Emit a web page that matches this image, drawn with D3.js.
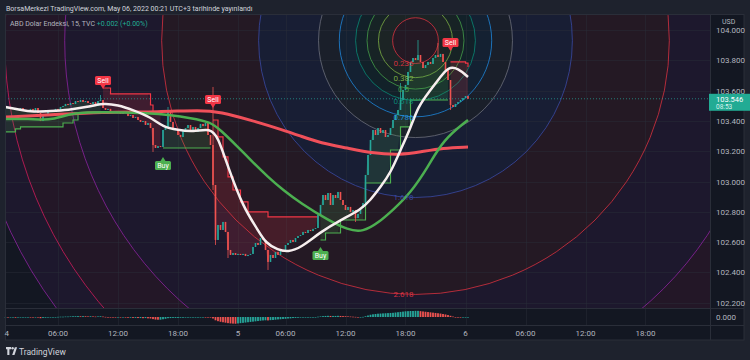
<!DOCTYPE html>
<html>
<head>
<meta charset="utf-8">
<script src="https://cdn.jsdelivr.net/npm/d3@7"></script>
<style>
  body { margin: 0; background: #1e222d; }
  svg { display: block; font-family: Roboto, "Noto Sans", sans-serif; }
</style>
</head>
<body>
<div id="chart"></div>
<script>
// ---- data (15 min bars, bar index 0 = first visible candle) ----
const firstOpen = 103.480;
const closes = [
  103.485,103.492,103.479,103.485,103.472,103.479,103.485,103.472,103.465,103.472,
  103.479,103.465,103.485,103.452,103.399,103.432,103.446,103.459,103.472,103.465,
  103.479,103.472,103.492,103.498,103.512,103.505,103.518,103.512,103.531,103.525,
  103.538,103.525,103.531,103.518,103.512,103.525,103.498,103.531,103.538,103.485,
  103.472,103.479,103.459,103.465,103.452,103.459,103.446,103.465,103.452,103.432,
  103.439,103.419,103.426,103.406,103.393,103.399,103.373,103.386,103.353,103.241,
  103.221,103.234,103.228,103.340,103.360,103.459,103.393,103.353,103.340,103.307,
  103.294,103.333,103.353,103.373,103.340,103.360,103.327,103.353,103.380,103.366,
  103.386,103.307,103.241,102.977,102.614,102.713,102.680,102.733,102.667,102.548,
  102.515,102.528,102.515,102.522,102.515,102.522,102.508,102.515,102.522,102.568,
  102.594,102.581,102.627,102.614,102.548,102.469,102.515,102.495,102.535,102.515,
  102.548,102.535,102.581,102.594,102.614,102.601,102.627,102.640,102.647,102.667,
  102.660,102.680,102.673,102.687,102.693,102.779,102.845,102.911,102.878,102.924,
  102.845,102.911,102.891,102.931,102.878,102.845,102.812,102.832,102.799,102.812,
  102.759,102.786,102.825,102.858,103.043,103.175,103.274,103.340,103.307,103.353,
  103.320,103.340,103.294,103.307,103.353,103.406,103.439,103.472,103.538,103.604,
  103.637,103.723,103.789,103.815,103.802,103.835,103.789,103.749,103.769,103.789,
  103.776,103.815,103.835,103.822,103.842,103.789,103.736,103.670,103.505,103.492,
  103.512,103.525,103.538,103.551,103.564,103.546
];
// [bar, high, low] for the visible wicks
const wicks = [
  [38, 103.571, null], [59, null, 103.195], [65, 103.492, null],
  [83, 103.624, 102.944], [84, null, 102.581], [89, null, 102.495],
  [105, null, 102.416], [140, null, 102.733], [158, 103.650, null],
  [165, 103.934, null], [173, 103.914, null], [178, null, 103.472]
];
// MACD histogram, in 0.001
const hist = [
  -3,-4,-4,-3,-5,-4,-3,-2,-2,-1,-2,-3,-2,-4,-8,-6,-5,-3,-2,-1,0,
  1,2,2,3,3,4,5,5,6,5,6,5,4,5,4,3,4,5,
  3,1,0,-1,-2,-3,-3,-4,-3,-4,-5,-5,-6,-6,-7,-7,-8,-7,-9,-10,
  -14,-17,-18,-18,
  -15,-12,-8,-7,-6,-6,-6,-5,-5,-4,
  -3,-2,-2,-1,-1,0,0,-1,-2,-4,
  -10,-22,-28,-32,-35,-38,-41,-43,-44,-45,
  -43,-41,-39,-37,-35,-33,-31,-29,-27,-25,-23,-22,-23,-21,-20,
  -18,-16,-15,-13,-12,-10,-9,-7,-6,-5,-4,
  -3,-2,-2,-1,-1,0,
  2,4,6,7,8,7,7,7,8,7,6,5,4,3,2,1,0,0,1,
  5,10,15,18,20,22,23,24,25,26,27,28,30,32,34,36,38,39,40,40,41,41,
  39,37,35,33,31,29,27,25,23,20,17,13,8,3,-1,
  -3,-4,-4,-3,-3
];
// moving averages [bar, price]
const whiteLine = [
  [0,103.492],[6,103.472],[11,103.459],[18,103.465],[25,103.472],[33,103.492],[39,103.518],
  [45,103.505],[51,103.472],[58,103.426],[63,103.360],[69,103.340],[75,103.327],[82,103.353],
  [85,103.294],[89,103.096],[95,102.832],[101,102.680],[104,102.594],[109,102.548],[113,102.535],
  [118,102.561],[126,102.667],[134,102.746],[142,102.812],[146,102.878],[150,102.964],[154,103.056],
  [158,103.208],[162,103.353],[165,103.492],[169,103.584],[174,103.690],[177,103.756],[181,103.749],
  [185,103.690]
];
const greenMA = [
  [0,103.413],[9,103.413],[18,103.406],[22,103.426],[27,103.452],[38,103.459],[58,103.452],
  [66,103.439],[74,103.419],[82,103.393],[86,103.340],[93,103.228],[98,103.142],[105,103.030],
  [111,102.944],[118,102.858],[129,102.746],[137,102.680],[143,102.667],[149,102.726],[155,102.812],
  [162,102.924],[169,103.096],[175,103.274],[185,103.406]
];
const redMA = [
  [0,103.426],[18,103.439],[38,103.459],[62,103.459],[78,103.472],[86,103.459],[98,103.406],
  [111,103.340],[118,103.300],[126,103.254],[137,103.221],[146,103.188],[158,103.175],
  [166,103.195],[175,103.221],[185,103.228]
];
// trailing stops (step lines)
const stopLong1 = [[0,103.327],[4,103.347],[6,103.360],[23,103.386],[27,103.406],[29,103.452],[38,103.459]];
const stopShort1 = [[39,103.617],[42,103.578],[58,103.505],[59,103.452],[62,103.452]];
const stopLong2 = [[63,103.221],[82,103.221]];
const stopShort2 = [[83,103.406],[85,103.294],[87,103.162],[89,103.030],[91,102.944],[94,102.865],[97,102.799],[105,102.766],[125,102.766]];
const stopLong3 = [[126,102.614],[128,102.660],[134,102.746],[144,102.990],[154,103.208],[158,103.360],[162,103.538],[177,103.538]];
const stopShort3 = [[178,103.789],[184,103.782],[185,103.756]];
const signals = [
  ['Sell', 39, 103.611], ['Buy', 63, 103.162], ['Sell', 83, 103.485],
  ['Buy', 126, 102.568], ['Sell', 178, 103.861]
];
// fib circles
const fibCenter = [164, 103.930];
const fibEdge = [164, 103.290];
const fibLevels = [0.236, 0.382, 0.5, 0.618, 0.786, 1, 1.618, 2.618, 3.618, 4.236, 4.618];
const fibColors = ['#f23645', '#8bc34a', '#4caf50', '#089981', '#2196f3', '#787b86', '#3f51b5', '#f23645', '#9c27b0', '#e91e63', '#9c27b0'];
const fibLabelled = [0.236, 0.382, 0.5, 0.618, 0.786, 1.618, 2.618];
const priceTicks = [102.2, 102.4, 102.6, 102.8, 103.0, 103.2, 103.4, 103.6, 103.8, 104.0];
const timeTicks = [[0.5,'4'],[21,'06:00'],[45,'12:00'],[69,'18:00'],[93,'5'],[112,'06:00'],[136,'12:00'],
  [160,'18:00'],[184,'6'],[208,'06:00'],[232,'12:00'],[256,'18:00']];
const lastPrice = 103.546;

// ---- layout ----
const W = 750, H = 360;
const pane = { left: 5, right: 710, top: 15, bottom: 308.5 };
const up = '#26a69a', down = '#ef5350';

const svg = d3.select('#chart').append('svg').attr('width', W).attr('height', H);
svg.append('rect').attr('width', W).attr('height', H).attr('fill', '#1e222d');
svg.append('rect').attr('x', 5).attr('y', 15).attr('width', 739).attr('height', 325).attr('fill', '#131722');

const x = d3.scaleLinear().domain([0, 280]).range([5.5, 705.5]);
const y = d3.scaleLinear().domain([102.2, 104.0]).range([302.7, 30]);
const yH = d3.scaleLinear().domain([-50, 50]).range([324.5, 309.5]);

svg.append('clipPath').attr('id', 'clipMain').append('rect')
  .attr('x', pane.left).attr('y', pane.top)
  .attr('width', pane.right - pane.left).attr('height', pane.bottom - pane.top);

const main = svg.append('g').attr('clip-path', 'url(#clipMain)');

// fib ring fills
const cx = x(fibCenter[0]), cy = y(fibCenter[1]);
const R = Math.hypot(x(fibEdge[0]) - cx, y(fibEdge[1]) - cy);
function ring(r0, r1) {
  const p = d3.path();
  p.moveTo(cx + r1, cy); p.arc(cx, cy, r1, 0, 2 * Math.PI);
  if (r0 > 0) { p.moveTo(cx + r0, cy); p.arc(cx, cy, r0, 0, 2 * Math.PI); }
  return p.toString();
}
fibLevels.forEach((k, j) => {
  main.append('path').attr('d', ring(j ? fibLevels[j - 1] * R : 0, k * R))
    .attr('fill', fibColors[j]).attr('fill-opacity', k === 1.618 ? 0.13 : 0.08).attr('fill-rule', 'evenodd');
});

// grid
const grid = main.append('g').attr('stroke', '#2a2e39').attr('stroke-opacity', 0.45);
priceTicks.forEach(t => grid.append('line').attr('x1', pane.left).attr('x2', pane.right)
  .attr('y1', Math.round(y(t)) + 0.5).attr('y2', Math.round(y(t)) + 0.5));
timeTicks.filter(t => t[0] >= 1).forEach(t => grid.append('line')
  .attr('x1', Math.round(x(t[0])) + 0.5).attr('x2', Math.round(x(t[0])) + 0.5)
  .attr('y1', pane.top).attr('y2', pane.bottom));
svg.append('g').attr('stroke', '#2a2e39').attr('stroke-opacity', 0.45).selectAll('line')
  .data(timeTicks.filter(t => t[0] >= 1)).join('line')
  .attr('x1', d => Math.round(x(d[0])) + 0.5).attr('x2', d => Math.round(x(d[0])) + 0.5)
  .attr('y1', 309).attr('y2', 325);

// fib circle lines
fibLevels.forEach((k, j) => {
  main.append('circle').attr('cx', cx).attr('cy', cy).attr('r', k * R)
    .attr('fill', 'none').attr('stroke', fibColors[j]).attr('stroke-opacity', 0.7).attr('stroke-width', 1);
});

// stop fills and lines
const stopAt = (pts, i) => { let v = pts[0][1]; pts.forEach(p => { if (p[0] <= i) v = p[1]; }); return v; };
function stopBand(pts, color) {
  const bars = d3.range(pts[0][0], pts[pts.length - 1][0] + 1);
  main.append('path').datum(bars)
    .attr('fill', color).attr('fill-opacity', 0.16)
    .attr('d', d3.area().x(i => x(i)).y0(i => y(stopAt(pts, i))).y1(i => y(closes[i])));
  main.append('path').datum(pts)
    .attr('fill', 'none').attr('stroke', color).attr('stroke-width', 1.2)
    .attr('d', d3.line().curve(d3.curveStepAfter).x(d => x(d[0])).y(d => y(d[1])));
}
stopBand(stopLong1, '#4caf50');
stopBand(stopShort1, '#f23645');
stopBand(stopLong2, '#4caf50');
stopBand(stopShort2, '#f23645');
stopBand(stopLong3, '#4caf50');
stopBand(stopShort3, '#f23645');

// current price line
main.append('line').attr('x1', pane.left).attr('x2', pane.right)
  .attr('y1', y(lastPrice)).attr('y2', y(lastPrice))
  .attr('stroke', up).attr('stroke-opacity', 0.7).attr('stroke-dasharray', '1,2');

// candles
const candles = closes.map((c, i) => {
  const o = i === 0 ? firstOpen : closes[i - 1];
  let h = Math.max(o, c), l = Math.min(o, c);
  const w = wicks.find(d => d[0] === i);
  if (w) { if (w[1] !== null) h = w[1]; if (w[2] !== null) l = w[2]; }
  return { i, o, h, l, c };
});
const cg = main.append('g');
cg.selectAll('line').data(candles).join('line')
  .attr('x1', d => x(d.i)).attr('x2', d => x(d.i))
  .attr('y1', d => y(d.h)).attr('y2', d => y(d.l))
  .attr('stroke', d => d.c >= d.o ? up : down).attr('stroke-width', 0.8);
cg.selectAll('rect').data(candles).join('rect')
  .attr('x', d => x(d.i) - 0.8).attr('width', 1.6)
  .attr('y', d => y(Math.max(d.o, d.c)))
  .attr('height', d => Math.max(1, Math.abs(y(d.o) - y(d.c))))
  .attr('fill', d => d.c >= d.o ? up : down);

// moving averages
const maLine = d3.line().curve(d3.curveBasis).x(d => x(d[0])).y(d => y(d[1]));
main.append('path').datum(redMA).attr('fill', 'none').attr('stroke', '#f0505a').attr('stroke-width', 3).attr('d', maLine);
main.append('path').datum(greenMA).attr('fill', 'none').attr('stroke', '#4caf50').attr('stroke-width', 2.5).attr('d', maLine);
main.append('path').datum(whiteLine).attr('fill', 'none').attr('stroke', '#f6eeee').attr('stroke-width', 2.5).attr('d', maLine);

// fib labels
fibLevels.forEach((k, j) => {
  if (!fibLabelled.includes(k)) return;
  main.append('text').attr('x', cx - 12).attr('y', cy + k * R + 3)
    .attr('text-anchor', 'middle').attr('font-size', 8).attr('fill', fibColors[j])
    .attr('fill-opacity', 0.85).text(k);
});

// buy / sell labels
signals.forEach(([type, bar, price]) => {
  const px = x(bar), py = y(price);
  const sell = type === 'Sell';
  const col = sell ? '#f23645' : '#4caf50';
  const by = sell ? py - 13 : py + 4;
  const g = main.append('g');
  g.append('path').attr('fill', col)
    .attr('d', sell ? `M${px - 2.5},${py - 4}L${px},${py}L${px + 2.5},${py - 4}Z`
                    : `M${px - 2.5},${py + 4}L${px},${py}L${px + 2.5},${py + 4}Z`);
  g.append('rect').attr('x', px - 8).attr('y', by).attr('width', 16).attr('height', 9)
    .attr('rx', 1.5).attr('fill', col);
  g.append('text').attr('x', px).attr('y', by + 6.8).attr('text-anchor', 'middle')
    .attr('font-size', 7).attr('fill', '#fff').text(type);
});

// MACD histogram
svg.append('g').selectAll('rect').data(hist).join('rect')
  .attr('x', (d, i) => x(i) - 0.9).attr('width', 1.8)
  .attr('y', d => Math.min(yH(d), yH(0)))
  .attr('height', d => Math.max(0.6, Math.abs(yH(d) - yH(0))))
  .attr('fill', (d, i) => (i === 0 || d >= hist[i - 1]) ? up : down);

// separators
const sep = svg.append('g').attr('stroke', '#2a2e39').attr('stroke-width', 1);
sep.append('line').attr('x1', 5).attr('x2', 744).attr('y1', 308.5).attr('y2', 308.5);
sep.append('line').attr('x1', 5).attr('x2', 744).attr('y1', 325.5).attr('y2', 325.5);
sep.append('line').attr('x1', 710.5).attr('x2', 710.5).attr('y1', 15).attr('y2', 340);
sep.append('rect').attr('x', 5.5).attr('y', 14.5).attr('width', 738.5).attr('height', 325.5).attr('fill', 'none');

// price axis
const axisG = svg.append('g').attr('font-size', 8).attr('fill', '#b2b5be');
priceTicks.forEach(t => axisG.append('text').attr('x', 716).attr('y', y(t) + 3).text(d3.format('.3f')(t)));
axisG.append('text').attr('x', 716).attr('y', yH(0) + 3).text('0.000');
axisG.append('text').attr('x', 722).attr('y', 24).attr('font-size', 7).text('USD');

const ly = y(lastPrice);
svg.append('rect').attr('x', 709).attr('y', ly - 5).attr('width', 41).attr('height', 17).attr('fill', '#22ab94');
svg.append('text').attr('x', 716).attr('y', ly + 2.8).attr('font-size', 7.5).attr('fill', '#fff').text(d3.format('.3f')(lastPrice));
svg.append('text').attr('x', 716).attr('y', ly + 10).attr('font-size', 6.5).attr('fill', '#d9f2ee').text('08:53');

// time axis
svg.append('g').attr('font-size', 8).attr('fill', '#b2b5be').attr('text-anchor', 'middle')
  .selectAll('text').data(timeTicks).join('text')
  .attr('x', d => x(d[0])).attr('y', 336).text(d => d[1]);

// header
svg.append('text').attr('x', 6).attr('y', 10.5).attr('font-size', 7).attr('fill', '#d1d4dc')
  .text('BorsaMerkezi TradingView.com, May 06, 2022 00:21 UTC+3 tarihinde yayınlandı');
const leg = svg.append('text').attr('x', 10).attr('y', 26).attr('font-size', 7).attr('fill', '#b2b5be');
leg.append('tspan').text('ABD Dolar Endeksi, 15, TVC  ');
leg.append('tspan').attr('fill', '#22ab94').text('+0.002 (+0.00%)');

// footer logo
const logo = svg.append('g').attr('fill', '#d1d4dc');
logo.append('path').attr('d', 'M6,347h5v2.2h-1.6v5.8h-2.1v-5.8h-1.3z');
logo.append('circle').attr('cx', 12.6).attr('cy', 348.3).attr('r', 1.2);
logo.append('path').attr('d', 'M12.2,355l2.6,-7.7h2.3l-2.6,7.7z');
svg.append('text').attr('x', 19).attr('y', 354.5).attr('font-size', 8.5).attr('fill', '#d1d4dc').text('TradingView');
</script>
</body>
</html>
